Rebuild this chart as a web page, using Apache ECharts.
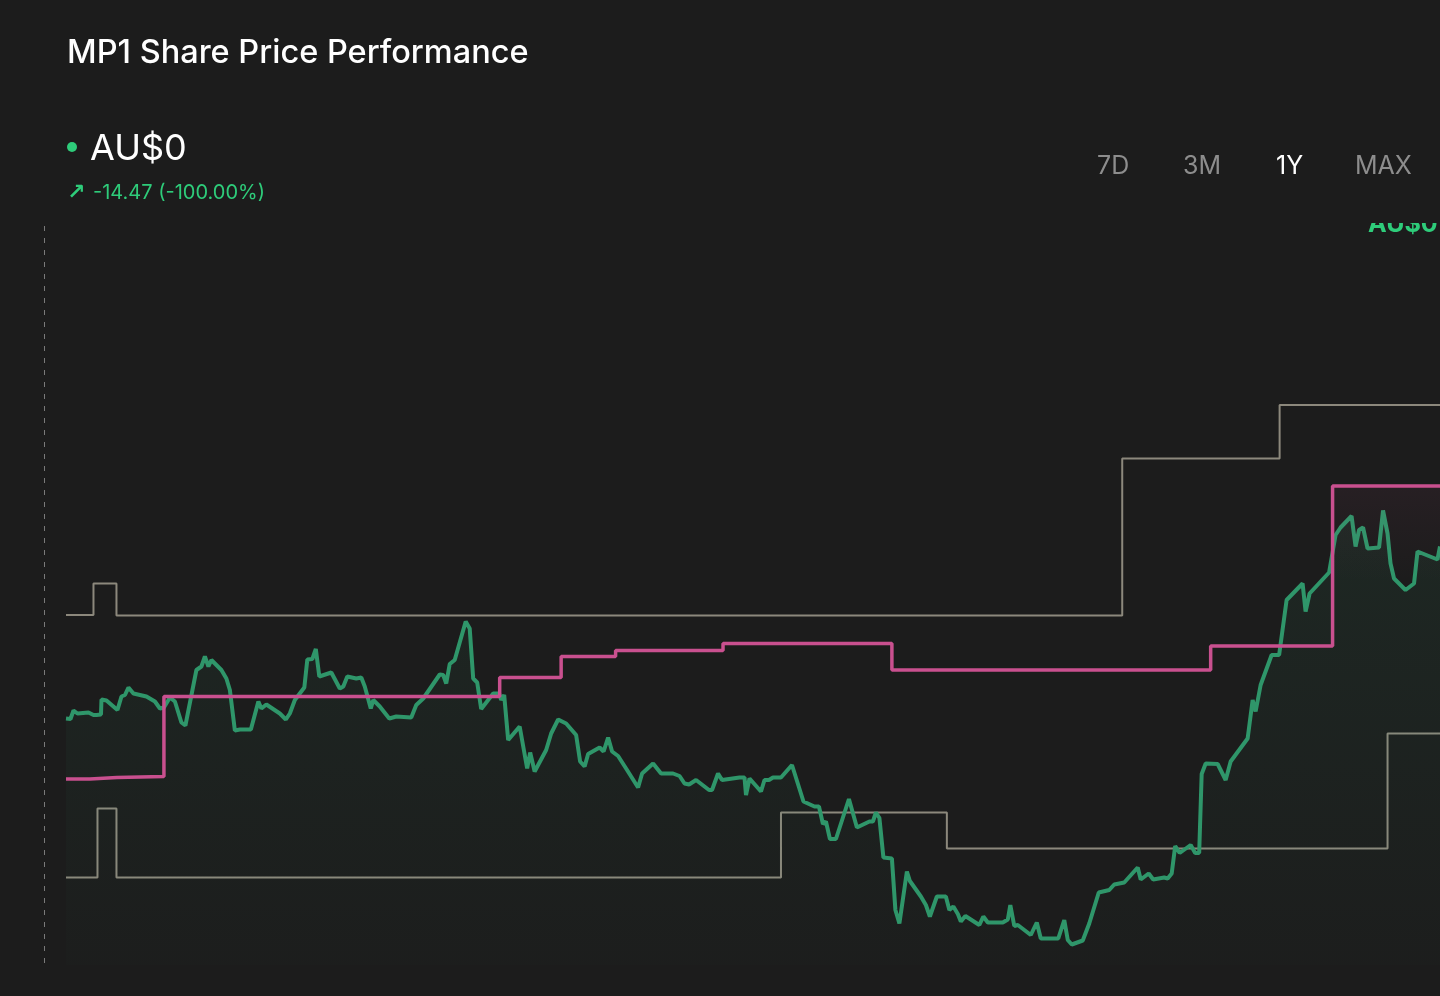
<!DOCTYPE html>
<html>
<head>
<meta charset="utf-8">
<title>MP1 Share Price Performance</title>
<script src="https://cdn.jsdelivr.net/npm/echarts@6/dist/echarts.min.js"></script>
<style>
    html, body { margin: 0; padding: 0; background: #1c1c1c; }
    #main { width: 1440px; height: 996px; }
</style>
</head>
<body>
<div id="main"></div>
<script>
// trading day index (1Y window) and close price, AU$
var priceDays = [0, 0.9, 1.5, 2.3, 4.5, 5.5, 6.1, 7.0, 7.1, 8.1, 10.3, 11.1, 11.8, 12.5, 13.5, 16.1, 17.8, 18.8, 19.6, 20.8,
    21.8, 23.1, 23.9, 26.1, 27.1, 27.8, 28.5, 29.1, 31.1, 32.1, 32.8, 33.8, 34.8, 37.0, 38.5, 39.1, 40.1, 42.8, 44.0, 44.8,
    45.8, 47.7, 48.3, 49.3, 50.0, 50.7, 53.1, 54.8, 55.5, 56.3, 58.1, 59.1, 59.8, 61.0, 61.5, 62.8, 64.7, 66.1, 69.1, 70.1,
    71.5, 74.8, 75.5, 76.1, 76.8, 77.8, 80.0, 80.8, 81.5, 82.3, 83.1, 85.5, 86.7, 87.1, 87.7, 88.5, 90.8, 92.3, 92.9, 93.8,
    96.1, 97.1, 98.5, 100.1, 102.1, 102.9, 103.8, 104.5, 106.8, 107.6, 108.5, 109.3, 110.5, 112.1, 114.5, 115.3, 117.5, 119.1, 121.5, 122.8,
    123.8, 124.7, 126.1, 128.7, 129.3, 130.5, 131.3, 134.8, 135.8, 136.1, 136.8, 139.1, 139.8, 140.7, 141.5, 143.1, 145.3, 147.6, 149.8, 150.7,
    151.5, 152.1, 152.9, 154.1, 156.7, 158.3, 160.8, 161.5, 162.1, 162.8, 163.6, 165.3, 166.0, 166.8, 168.3, 168.9, 171.1, 172.1, 172.9, 174.3,
    176.1, 176.8, 177.6, 178.5, 179.1, 180.0, 182.8, 183.6, 184.5, 187.5, 188.5, 189.0, 189.8, 190.5, 193.1, 194.3, 195.1, 198.6, 199.8, 200.5,
    201.3, 203.5, 204.8, 206.7, 208.8, 209.8, 211.8, 214.5, 215.1, 216.7, 217.6, 219.8, 220.5, 221.3, 222.0, 222.9, 225.1, 226.0, 226.8, 227.3,
    228.1, 230.5, 232.1, 233.1, 236.5, 237.5, 238.1, 239.1, 241.3, 242.8, 244.3, 247.5, 248.1, 248.9, 252.8, 254.1, 255.1, 257.3, 258.1, 258.8,
    259.6, 260.5, 262.8, 263.6, 264.5, 265.1, 265.8, 268.1, 269.8, 270.5, 274.5, 275];
var priceValues = [9.93, 9.92, 10.09, 10.03, 10.05, 10.00, 10.00, 10.01, 10.31, 10.29, 10.10, 10.37, 10.40, 10.55, 10.43, 10.37, 10.27, 10.13, 10.15, 10.35,
    10.27, 9.85, 9.79, 10.90, 10.97, 11.17, 10.97, 11.10, 10.90, 10.73, 10.50, 9.69, 9.71, 9.71, 10.27, 10.13, 10.21, 10.03, 9.91, 10.03,
    10.30, 10.55, 11.11, 11.12, 11.32, 10.77, 10.85, 10.53, 10.57, 10.77, 10.73, 10.75, 10.57, 10.13, 10.30, 10.17, 9.93, 9.97, 9.95, 10.20,
    10.33, 10.81, 10.80, 10.63, 11.02, 11.10, 11.87, 11.73, 10.73, 10.65, 10.12, 10.43, 10.43, 10.30, 10.40, 9.50, 9.77, 8.93, 9.25, 8.87,
    9.30, 9.63, 9.91, 9.83, 9.60, 9.07, 8.97, 9.22, 9.35, 9.27, 9.55, 9.27, 9.18, 8.93, 8.55, 8.83, 9.03, 8.83, 8.83, 8.78,
    8.63, 8.61, 8.70, 8.50, 8.50, 8.83, 8.70, 8.75, 8.75, 8.40, 8.73, 8.47, 8.70, 8.70, 8.75, 8.75, 9.00, 8.27, 8.17, 8.17,
    7.82, 7.87, 7.52, 7.52, 8.32, 7.75, 7.87, 7.87, 8.05, 7.94, 7.15, 7.13, 6.10, 5.83, 6.87, 6.68, 6.37, 6.20, 5.97, 6.37,
    6.37, 6.10, 6.17, 6.02, 5.87, 5.98, 5.80, 5.97, 5.85, 5.85, 5.91, 6.20, 5.78, 5.80, 5.60, 5.85, 5.53, 5.53, 5.90, 5.50,
    5.41, 5.49, 5.83, 6.45, 6.50, 6.61, 6.65, 6.95, 6.71, 6.83, 6.71, 6.75, 6.73, 6.83, 7.38, 7.24, 7.40, 7.24, 7.24, 8.82,
    9.03, 9.02, 8.70, 9.07, 9.53, 10.30, 10.07, 10.60, 11.20, 11.20, 12.30, 12.63, 12.07, 12.43, 12.85, 13.60, 13.75, 13.98, 13.37, 13.70,
    13.75, 13.33, 13.35, 14.09, 13.63, 13.03, 12.73, 12.50, 12.63, 13.27, 13.11, 13.37];

// analyst price targets (step changes)
var targetDays = [0, 4.8, 10.2, 19.6, 86.8, 99.1, 110, 131.5, 165.3, 229.1, 253.5, 275];
var targetAvg = [8.72, 8.75, 8.77, 10.37, 10.75, 11.17, 11.29, 11.43, 10.90, 11.38, 14.58, 14.58];

var highDays = [0, 5.5, 10.1, 211.4, 242.9, 275];
var targetHigh = [12.00, 12.63, 11.99, 15.13, 16.20, 16.20];

var lowDays = [0, 6.3, 10.1, 143.1, 176.3, 264.5, 275];
var targetLow = [6.75, 8.13, 6.75, 8.05, 7.33, 9.63, 9.63];

var periods = ['7D', '3M', '1Y', 'MAX'];
var activePeriod = '1Y';

function zip(xs, ys) {
    var out = [];
    for (var i = 0; i < xs.length; i++) {
        out.push([xs[i], ys[i]]);
    }
    return out;
}

var chart = echarts.init(document.getElementById('main'));
var font = 'Inter, "Noto Sans", sans-serif';
var green = '#2f966a';
var pink = '#c9508f';
var grey = '#8c887c';

// period buttons
var periodX = [1097, 1183, 1276, 1355];
var buttons = periods.map(function (p, i) {
    return {
        type: 'text', left: periodX[i], top: 154,
        style: {text: p, fill: p === activePeriod ? '#ffffff' : '#8d8d8d', font: '400 25px ' + font}
    };
});

var option = {
    backgroundColor: '#1c1c1c',
    animation: false,
    grid: {left: 66, right: 0, top: 265, bottom: 31},
    xAxis: {type: 'value', min: 0, max: 275, show: false},
    yAxis: {type: 'value', min: 5, max: 19, show: false},
    graphic: [
        {type: 'text', left: 67, top: 37, style: {text: 'MP1 Share Price Performance', fill: '#ffffff', font: '500 32.5px ' + font}},
        {type: 'circle', shape: {cx: 72, cy: 147, r: 5}, style: {fill: '#2ecc7a'}},
        {type: 'text', left: 90, top: 131, style: {text: 'AU$0', fill: '#ffffff', font: '400 36px ' + font}},
        {type: 'text', left: 67, top: 182, style: {text: '↗', fill: '#2ecc7a', font: '700 22px "DejaVu Sans", sans-serif'}},
        {type: 'text', left: 93, top: 183, style: {text: '-14.47 (-100.00%)', fill: '#2ecc7a', font: '400 20px ' + font}},
        {type: 'line', shape: {x1: 44.5, y1: 226, x2: 44.5, y2: 966}, style: {stroke: '#7a7a7a', lineWidth: 1, lineDash: [5, 7]}},
        // end label, cut off by the top of the plot
        {type: 'text', left: 1368, top: 212, z: 10, style: {text: 'AU$0', fill: '#2ecc7a', font: '700 25px ' + font}},
        {type: 'rect', shape: {x: 1340, y: 190, width: 100, height: 33}, z: 11, style: {fill: '#1c1c1c'}}
    ].concat(buttons),
    series: [
        {
            name: 'High target', type: 'line', step: 'end', showSymbol: false, z: 1,
            data: zip(highDays, targetHigh),
            lineStyle: {color: grey, width: 2}
        },
        {
            name: 'Low target', type: 'line', step: 'end', showSymbol: false, z: 1,
            data: zip(lowDays, targetLow),
            lineStyle: {color: grey, width: 2}
        },
        {
            name: 'Price', type: 'line', showSymbol: false, z: 2,
            data: zip(priceDays, priceValues),
            lineStyle: {color: green, width: 4},
            areaStyle: {
                color: new echarts.graphic.LinearGradient(0, 0, 0, 1, [
                    {offset: 0, color: 'rgba(46,146,102,0.14)'},
                    {offset: 1, color: 'rgba(46,146,102,0.02)'}
                ])
            }
        },
        {
            name: 'Average target', type: 'line', step: 'end', showSymbol: false, z: 3,
            data: zip(targetDays, targetAvg),
            lineStyle: {color: pink, width: 3.5},
            areaStyle: {
                color: new echarts.graphic.LinearGradient(0, 0, 0, 1, [
                    {offset: 0, color: 'rgba(201,80,143,0.09)'},
                    {offset: 0.2, color: 'rgba(201,80,143,0)'}
                ])
            }
        }
    ]
};
chart.setOption(option);
</script>
</body>
</html>
